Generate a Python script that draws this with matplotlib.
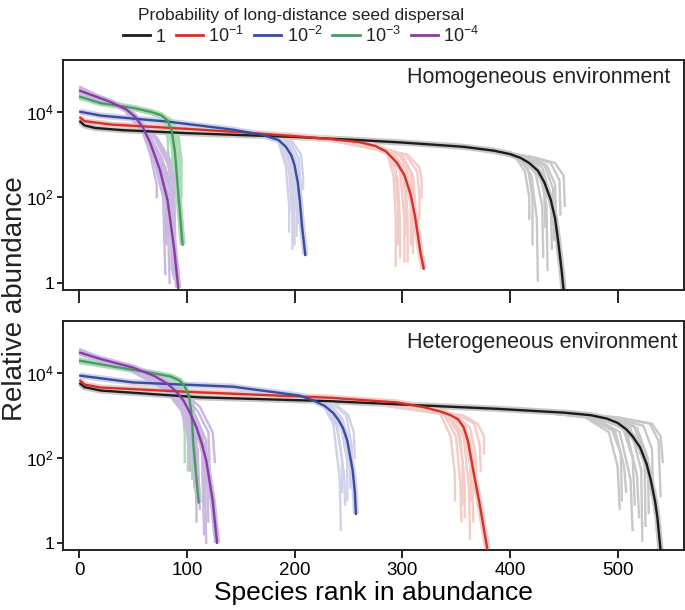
import numpy as np
import matplotlib.pyplot as plt
from matplotlib.lines import Line2D

plt.rcParams['font.family'] = ['Liberation Sans', 'DejaVu Sans']
plt.rcParams['mathtext.fontset'] = 'custom'
plt.rcParams['mathtext.rm'] = 'Liberation Sans'
plt.rcParams['mathtext.it'] = 'Liberation Sans'
plt.rcParams['text.color'] = '#222222'

# dispersal probabilities and colours (dark = mean curve, light = replicates)
labels = ['1', r'10$^{-1}$', r'10$^{-2}$', r'10$^{-3}$', r'10$^{-4}$']
dark = ['#1c1c1c', '#d3322b', '#3a4c9e', '#4b9968', '#8a3ca5']
light = ['#c8c8c8', '#f3cbc7', '#d0d2ea', '#acdcb5', '#c9b8e0']

# values: (rank, log10 relative abundance)
# --- homogeneous environment, mean curves
hom_black = [(1, 3.77), (5, 3.68), (15, 3.62), (40, 3.57), (100, 3.50), (200, 3.41), (250, 3.35), (300, 3.28),
             (357, 3.18), (385, 3.09), (400, 3.01), (410, 2.92), (418, 2.80), (426, 2.62), (432, 2.35),
             (438, 1.94), (442, 1.50), (445, 0.94), (448, 0.30), (450, -0.20)]
hom_red = [(1, 3.86), (5, 3.78), (30, 3.70), (100, 3.60), (150, 3.52), (200, 3.43), (233, 3.36),
           (260, 3.29), (275, 3.20), (285, 3.07), (295, 2.81), (302, 2.52), (308, 2.05), (312, 1.54),
           (317, 0.70), (320, 0.33)]
hom_blue = [(1, 4.00), (20, 3.91), (50, 3.84), (82, 3.77), (143, 3.58), (170, 3.46), (185, 3.34),
            (192, 3.18), (197, 2.98), (200, 2.75), (203, 2.35), (205, 1.90), (207, 1.31), (210, 0.65)]
hom_green = [(1, 4.35), (20, 4.20), (50, 4.09), (66, 4.00), (76, 3.92), (82, 3.80), (86, 3.55),
             (89, 3.04), (92, 2.10), (94, 1.50), (96, 0.89)]
hom_purple = [(1, 4.49), (15, 4.36), (29, 4.23), (44, 4.05), (52, 3.88), (59, 3.64), (66, 3.27),
              (75, 2.64), (82, 1.94), (88, 0.84), (92, -0.12)]

# --- homogeneous environment, replicate runs (tail part only)
hom_black_reps = [
    [(350, 3.2), (405, 2.95), (414, 2.6), (418, 2.0), (418, 1.5)],
    [(350, 3.2), (407, 2.95), (417, 2.65), (421, 2.0), (421, 0.9)],
    [(350, 3.2), (408, 2.95), (420, 2.5), (425, 1.5), (426, 0.05)],
    [(350, 3.2), (410, 2.95), (424, 2.55), (430, 1.8), (431, 0.6)],
    [(350, 3.2), (411, 2.95), (426, 2.65), (432, 2.1), (433, 1.3)],
    [(350, 3.2), (412, 2.95), (428, 2.6), (434, 1.8), (435, 0.3)],
    [(350, 3.2), (414, 2.95), (430, 2.7), (438, 2.0), (439, 0.8)],
    [(350, 3.2), (415, 2.95), (432, 2.75), (440, 2.2), (441, 1.0)],
    [(350, 3.2), (416, 2.95), (434, 2.75), (442, 2.3), (443, 1.2)],
    [(350, 3.2), (418, 2.95), (438, 2.8), (446, 2.4), (447, 1.6)],
    [(350, 3.2), (420, 2.95), (442, 2.8), (450, 2.5), (451, 1.8)],
]
hom_red_reps = [
    [(230, 3.35), (285, 3.1), (292, 2.5), (294, 1.5), (294, 0.4)],
    [(230, 3.35), (286, 3.1), (294, 2.6), (296, 1.8), (296, 0.9)],
    [(230, 3.35), (288, 3.1), (296, 2.4), (298, 1.4), (298, 0.6)],
    [(230, 3.35), (290, 3.1), (298, 2.6), (302, 1.5), (302, 0.5)],
    [(230, 3.35), (291, 3.05), (300, 2.7), (303, 2.0), (303, 1.1)],
    [(230, 3.35), (293, 3.05), (302, 2.6), (305, 1.6), (305, 0.5)],
    [(230, 3.35), (296, 3.05), (305, 2.6), (308, 1.8), (308, 0.9)],
    [(230, 3.35), (298, 3.0), (308, 2.6), (310, 1.9), (310, 0.7)],
    [(230, 3.35), (300, 3.0), (310, 2.5), (312, 1.9), (312, 1.2)],
    [(230, 3.35), (303, 3.0), (314, 2.6), (316, 2.0), (316, 1.5)],
    [(230, 3.35), (305, 3.0), (316, 2.7), (318, 2.4), (318, 2.0)],
]
hom_blue_reps = [
    [(150, 3.55), (185, 3.3), (192, 2.7), (195, 1.8), (195, 1.2)],
    [(150, 3.55), (187, 3.3), (195, 2.6), (198, 1.5), (198, 0.8)],
    [(150, 3.55), (188, 3.3), (196, 2.8), (199, 2.0), (199, 0.9)],
    [(150, 3.55), (190, 3.3), (198, 2.5), (200, 1.4), (200, 0.9)],
    [(150, 3.55), (192, 3.3), (200, 2.6), (202, 1.6), (202, 1.1)],
    [(150, 3.55), (193, 3.3), (201, 2.9), (203, 2.2), (203, 1.4)],
    [(150, 3.55), (194, 3.3), (202, 2.8), (204, 2.0), (204, 1.6)],
    [(150, 3.55), (196, 3.3), (204, 2.9), (206, 2.2), (206, 1.8)],
    [(150, 3.55), (198, 3.3), (206, 3.0), (208, 2.5), (208, 2.2)],
]
hom_green_reps = [
    [(1, 4.40), (50, 4.12), (78, 3.9), (82, 3.4), (84, 2.5), (84, 2.3)],
    [(1, 4.38), (50, 4.10), (80, 3.85), (85, 3.5), (88, 2.8), (88, 2.2)],
    [(1, 4.33), (50, 4.08), (82, 3.85), (88, 3.6), (91, 2.8), (92, 2.0)],
    [(1, 4.30), (50, 4.06), (84, 3.85), (90, 3.6), (93, 3.0), (94, 2.4)],
    [(1, 4.36), (50, 4.11), (76, 3.9), (80, 3.8), (86, 3.2), (87, 2.6)],
    [(1, 4.32), (50, 4.07), (86, 3.8), (92, 3.5), (95, 2.9), (95, 2.0)],
    [(1, 4.34), (50, 4.09), (83, 3.85), (89, 3.5), (90, 2.9), (90, 2.1)],
]
hom_purple_reps = [
    [(1, 4.58), (40, 4.1), (58, 3.6), (66, 3.0), (72, 2.3), (72, 2.0)],
    [(1, 4.52), (40, 4.1), (60, 3.5), (70, 2.8), (78, 2.0), (80, 0.2)],
    [(1, 4.47), (40, 4.1), (62, 3.5), (74, 2.8), (82, 1.8), (84, 0.0)],
    [(1, 4.50), (40, 4.1), (64, 3.4), (76, 2.7), (85, 1.6), (86, 0.3)],
    [(1, 4.44), (40, 4.1), (66, 3.4), (78, 2.7), (86, 2.0), (88, 0.1)],
    [(1, 4.55), (40, 4.1), (68, 3.3), (80, 2.7), (88, 2.0), (90, 0.1)],
    [(1, 4.48), (40, 4.1), (70, 3.4), (82, 2.8), (88, 2.2), (88, 0.6)],
    [(1, 4.46), (40, 4.1), (72, 3.4), (84, 2.9), (88, 2.5), (90, 0.0)],
    [(1, 4.53), (40, 4.1), (61, 3.6), (72, 3.0), (80, 2.3), (81, 0.9)],
    [(1, 4.42), (40, 4.1), (65, 3.5), (77, 2.9), (84, 2.2), (85, 1.2)],
    [(1, 4.50), (40, 4.1), (69, 3.5), (80, 3.0), (87, 2.4), (87, 0.2)],
]

# --- heterogeneous environment, mean curves
het_black = [(1, 3.74), (5, 3.66), (20, 3.58), (112, 3.42), (233, 3.33), (300, 3.25), (388, 3.15),
             (450, 3.06), (475, 3.00), (490, 2.92), (500, 2.82), (508, 2.67), (514, 2.50), (521, 2.24),
             (527, 1.85), (531, 1.46), (535, 0.95), (537, 0.59), (540, -0.19)]
het_red = [(1, 3.81), (5, 3.72), (20, 3.65), (100, 3.55), (233, 3.41), (295, 3.30), (320, 3.19),
           (335, 3.09), (345, 3.00), (352, 2.90), (357, 2.72), (361, 2.40), (366, 1.70), (372, 0.90),
           (379, -0.14)]
het_blue = [(1, 3.93), (50, 3.77), (143, 3.67), (205, 3.46), (218, 3.34), (228, 3.22), (236, 3.05),
            (241, 2.88), (245, 2.70), (249, 2.40), (254, 1.70), (256, 1.20), (257, 0.68)]
het_green = [(1, 4.28), (35, 4.13), (66, 4.00), (85, 3.91), (93, 3.82), (98, 3.68), (102, 3.45),
             (104, 3.10), (105, 2.80), (106, 2.33), (108, 1.77), (111, 0.95)]
het_purple = [(1, 4.47), (20, 4.32), (50, 4.12), (70, 3.92), (82, 3.74), (90, 3.56), (97, 3.34),
              (103, 3.05), (109, 2.71), (114, 2.32), (118, 1.93), (124, 0.99), (128, 0.0)]

# --- heterogeneous environment, replicate runs
het_black_reps = [
    [(400, 3.15), (470, 2.95), (492, 2.6), (500, 1.8), (502, 0.8)],
    [(400, 3.15), (472, 2.95), (495, 2.65), (503, 2.1), (504, 1.0)],
    [(400, 3.15), (474, 2.95), (498, 2.6), (506, 1.8), (508, 1.2)],
    [(400, 3.15), (478, 2.95), (502, 2.6), (512, 1.5), (514, 0.3)],
    [(400, 3.15), (480, 2.95), (505, 2.7), (514, 2.0), (516, 0.9)],
    [(400, 3.15), (482, 2.95), (508, 2.65), (518, 1.6), (520, 0.6)],
    [(400, 3.15), (486, 2.95), (512, 2.7), (522, 1.7), (523, 0.05)],
    [(400, 3.15), (488, 2.95), (515, 2.75), (525, 2.1), (526, 0.4)],
    [(400, 3.15), (490, 2.95), (518, 2.7), (528, 2.0), (529, 0.7)],
    [(400, 3.15), (494, 2.95), (524, 2.75), (532, 2.2), (533, 1.2)],
    [(400, 3.15), (498, 2.95), (530, 2.8), (538, 2.4), (540, 1.1)],
    [(400, 3.15), (500, 2.95), (532, 2.8), (540, 2.5), (542, 1.9)],
]
het_red_reps = [
    [(250, 3.35), (335, 3.05), (345, 2.5), (349, 1.6), (349, 1.0)],
    [(250, 3.35), (338, 3.05), (350, 2.5), (354, 1.4), (355, 0.5)],
    [(250, 3.35), (340, 3.05), (352, 2.6), (356, 1.9), (356, 0.9)],
    [(250, 3.35), (341, 3.05), (354, 2.5), (358, 1.4), (358, 0.6)],
    [(250, 3.35), (344, 3.0), (357, 2.5), (362, 1.3), (363, 0.1)],
    [(250, 3.35), (346, 3.0), (359, 2.6), (363, 1.9), (364, 1.0)],
    [(250, 3.35), (347, 3.0), (360, 2.6), (365, 1.7), (366, 0.5)],
    [(250, 3.35), (350, 3.0), (363, 2.7), (368, 2.1), (369, 1.2)],
    [(250, 3.35), (353, 3.0), (367, 2.8), (372, 2.3), (373, 1.7)],
    [(250, 3.35), (356, 3.0), (370, 2.8), (376, 2.5), (376, 2.1)],
]
het_blue_reps = [
    [(150, 3.65), (225, 3.3), (236, 2.8), (242, 1.5), (243, 0.3)],
    [(150, 3.65), (227, 3.3), (238, 2.9), (244, 2.0), (244, 1.2)],
    [(150, 3.65), (228, 3.3), (240, 2.7), (246, 1.6), (247, 0.9)],
    [(150, 3.65), (230, 3.3), (242, 2.9), (249, 1.9), (249, 1.0)],
    [(150, 3.65), (232, 3.3), (245, 2.9), (251, 2.0), (252, 1.3)],
    [(150, 3.65), (234, 3.3), (248, 3.0), (253, 2.3), (254, 1.6)],
    [(150, 3.65), (236, 3.3), (250, 3.0), (255, 2.6), (256, 2.0)],
]
het_green_reps = [
    [(1, 4.33), (50, 4.05), (90, 3.75), (96, 3.3), (98, 2.5), (98, 1.9)],
    [(1, 4.30), (50, 4.05), (92, 3.7), (99, 3.2), (101, 2.3), (101, 1.7)],
    [(1, 4.25), (50, 4.05), (94, 3.7), (101, 3.3), (103, 2.5), (103, 2.0)],
    [(1, 4.28), (50, 4.05), (96, 3.7), (103, 3.3), (105, 2.6), (105, 1.5)],
    [(1, 4.22), (50, 4.05), (98, 3.7), (104, 3.4), (107, 2.6), (108, 1.2)],
    [(1, 4.31), (50, 4.05), (100, 3.65), (106, 3.3), (109, 2.5), (109, 1.0)],
]
het_purple_reps = [
    [(1, 4.55), (40, 4.15), (80, 3.6), (95, 3.1), (102, 2.4), (103, 1.7)],
    [(1, 4.50), (40, 4.15), (82, 3.6), (98, 3.0), (106, 2.2), (107, 1.3)],
    [(1, 4.45), (40, 4.15), (84, 3.6), (100, 3.0), (110, 2.2), (112, 0.8)],
    [(1, 4.52), (40, 4.15), (86, 3.6), (104, 3.0), (114, 2.2), (116, 0.2)],
    [(1, 4.42), (40, 4.15), (88, 3.6), (106, 3.0), (116, 2.3), (118, 0.0)],
    [(1, 4.48), (40, 4.15), (90, 3.6), (108, 3.0), (118, 2.4), (120, 0.5)],
    [(1, 4.46), (40, 4.15), (92, 3.6), (110, 3.1), (120, 2.6), (122, 1.2)],
    [(1, 4.50), (40, 4.15), (94, 3.6), (112, 3.2), (124, 2.6), (126, 1.9)],
    [(1, 4.44), (40, 4.15), (83, 3.65), (99, 3.1), (108, 2.5), (109, 0.5)],
    [(1, 4.49), (40, 4.15), (89, 3.6), (105, 3.1), (115, 2.5), (115, 1.0)],
]

panels = [
    ('Homogeneous environment', [hom_black, hom_red, hom_blue, hom_green, hom_purple],
     [hom_black_reps, hom_red_reps, hom_blue_reps, hom_green_reps, hom_purple_reps]),
    ('Heterogeneous environment', [het_black, het_red, het_blue, het_green, het_purple],
     [het_black_reps, het_red_reps, het_blue_reps, het_green_reps, het_purple_reps]),
]

fig = plt.figure(figsize=(6.85, 6.1), dpi=100)
ax1 = fig.add_axes([0.092, 0.5246, 0.907, 0.377])
ax2 = fig.add_axes([0.092, 0.0984, 0.907, 0.375])

for i, (ax, (name, means, reps)) in enumerate(zip([ax1, ax2], panels)):
    # replicate runs and light halo behind the means
    for k in range(5):
        xs, ys = zip(*means[k])
        ax.plot(xs, 10 ** np.array(ys), color=light[k], lw=4.5, solid_capstyle='butt', zorder=1)
        for r in reps[k]:
            rx, ry = zip(*r)
            ax.plot(rx, 10 ** np.array(ry), color=light[k], lw=1.7, zorder=1)
    for k in range(5):
        xs, ys = zip(*means[k])
        ax.plot(xs, 10 ** np.array(ys), color=dark[k], lw=1.7, zorder=3)

    ax.set_yscale('log')
    ax.set_xlim(-15, 562)
    ax.set_ylim(10 ** -0.17, 10 ** 5.21)
    ax.set_yticks([1, 1e2, 1e4])
    ax.set_yticklabels(['1', r'10$^2$', r'10$^4$'])
    ax.yaxis.set_minor_locator(plt.NullLocator())
    ax.set_xticks([0, 100, 200, 300, 400, 500])
    ax.tick_params(axis='y', length=4.5, width=1.2, labelsize=12.5, pad=2)
    ax.tick_params(axis='x', length=9.5 if i == 0 else 6, width=1.2, labelsize=13.5, pad=3)
    if i == 0:
        ax.set_xticklabels([])
    for s in ax.spines.values():
        s.set_linewidth(1.4)
        s.set_color('#222222')
    ax.text(0.977 if i == 0 else 0.989, 0.926 if i == 0 else 0.908, name,
            transform=ax.transAxes, ha='right', va='center', fontsize=15.5)

ax2.set_xlabel('Species rank in abundance', fontsize=19, labelpad=1)
fig.text(0.022, 0.51, 'Relative abundance', rotation=90, ha='center', va='center', fontsize=20)

handles = [Line2D([], [], color=c, lw=2) for c in dark]
leg = fig.legend(handles, labels, loc='upper center', bbox_to_anchor=(0.44, 1.005), ncol=5,
                 frameon=False, fontsize=13, handlelength=1.5, handletextpad=0.3,
                 columnspacing=0.55, title='Probability of long-distance seed dispersal',
                 title_fontsize=12.5, borderaxespad=0.2)
leg._legend_box.sep = 2

plt.savefig('out.png', dpi=100)
